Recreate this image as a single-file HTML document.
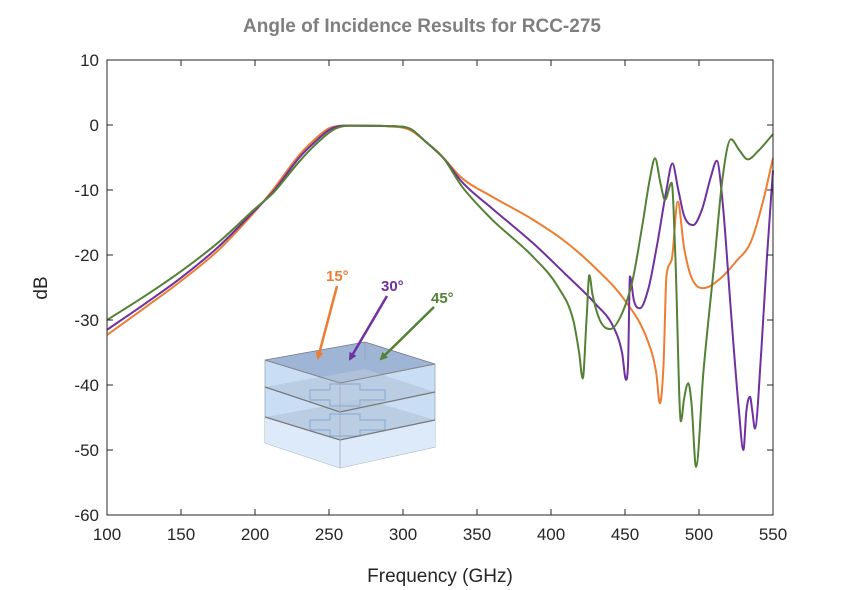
<!DOCTYPE html>
<html><head><meta charset="utf-8"><style>
body{margin:0;background:#fff;}
svg{display:block;font-family:"Liberation Sans",sans-serif;}
</style></head><body>
<svg id="chart" width="844" height="590" viewBox="0 0 844 590">
<text x="422" y="32" text-anchor="middle" font-size="19" font-weight="bold" fill="#7f7f7f">Angle of Incidence Results for RCC-275</text>
<g id="axes"></g>
<g id="inset">
  <polygon points="265,443 340,468 435,447 435,364 340,383 265,360" fill="#c9def5" stroke="#9aa" stroke-width="0.8"/>
  <polygon points="265,443 340,468 435,447 435,420 340,440 265,417" fill="#ddeaf9" stroke="none"/>
  <polygon points="265,360 365,342 435,364 340,383" fill="#9fb5d6" stroke="#778" stroke-width="0.8"/>
  <polygon points="265,387 365,369 435,392 340,412" fill="#b5c6da" opacity="0.7" stroke="none"/>
  <polygon points="265,417 365,399 435,420 340,440" fill="#b5c6da" opacity="0.7" stroke="none"/>
  <path d="M310,390 h20 v-6 h30 v6 h25 v10 h-25 v6 h-30 v-6 h-20z M310,420 h20 v-6 h30 v6 h25 v10 h-25 v6 h-30 v-6 h-20z" fill="none" stroke="#8fb0d8" stroke-width="1.2"/>
  <polyline points="265,387 340,412 435,392" fill="none" stroke="#777" stroke-width="1.2"/>
  <polyline points="265,417 340,440 435,420" fill="none" stroke="#777" stroke-width="1.2"/>
  <polyline points="265,360 340,383 435,364" fill="none" stroke="#888" stroke-width="1"/>
  <line x1="340" y1="383" x2="340" y2="468" stroke="#aab" stroke-width="0.8"/>
  <line x1="365" y1="342" x2="365" y2="360" stroke="#99a" stroke-width="0.6"/>
  <defs>
    <marker id="ao" markerWidth="8" markerHeight="8" refX="6" refY="4" orient="auto" markerUnits="userSpaceOnUse"><path d="M0,0 L8,4 L0,8z" fill="#ED7D31"/></marker>
    <marker id="ap" markerWidth="8" markerHeight="8" refX="6" refY="4" orient="auto" markerUnits="userSpaceOnUse"><path d="M0,0 L8,4 L0,8z" fill="#7030A0"/></marker>
    <marker id="ag" markerWidth="8" markerHeight="8" refX="6" refY="4" orient="auto" markerUnits="userSpaceOnUse"><path d="M0,0 L8,4 L0,8z" fill="#538135"/></marker>
  </defs>
  <line x1="337" y1="286" x2="318" y2="358" stroke="#ED7D31" stroke-width="2.5" marker-end="url(#ao)"/>
  <line x1="387" y1="296" x2="350" y2="359" stroke="#7030A0" stroke-width="2.5" marker-end="url(#ap)"/>
  <line x1="434" y1="307" x2="381" y2="359" stroke="#538135" stroke-width="2.5" marker-end="url(#ag)"/>
  <text x="326" y="281" font-size="15" font-weight="bold" fill="#ED7D31">15°</text>
  <text x="381" y="291" font-size="15" font-weight="bold" fill="#7030A0">30°</text>
  <text x="431" y="303" font-size="15" font-weight="bold" fill="#538135">45°</text>
</g>
<g id="series"></g>
<g id="frame"></g>
</svg>
<script>
const xTicks=[100,150,200,250,300,350,400,450,500,550];
const yTicks=[10,0,-10,-20,-30,-40,-50,-60];
const f15=[100,125,150,175,200,212,230,240,250,260,290,305,315,327,340,360,388,410,430,450,465,471,473.6,476,478,481.5,485.6,490,495,503,515,525,535,543,550];
const v15=[-32.3,-28.2,-24,-19.3,-13.3,-10,-4.6,-2.3,-0.5,-0.1,-0.2,-0.8,-2.5,-5,-8.2,-11,-14.6,-18,-22,-27,-33,-38,-42.8,-37,-23.3,-20.8,-11.8,-19,-23.5,-25.1,-23.5,-21,-18,-12,-5.1];
const f30=[100,125,150,175,200,212,230,240,252,262,295,305,315,327,340,360,388,410,430,442,448,450.7,452,453.4,456,460,466,472,478,482,486,490,496,502,508,512,516,522,527,530,532,534.5,536,537.8,542,546,550];
const v30=[-31.5,-27.6,-23.5,-18.8,-13.1,-10.3,-5,-2.7,-0.5,-0.1,-0.2,-0.6,-2.5,-5,-8.8,-12.8,-18.2,-23,-27.5,-31,-35,-39.2,-37,-23.3,-27,-28.2,-25,-18,-10,-5.9,-10,-14,-15.4,-13,-8,-5.5,-12,-30,-44,-50,-44,-41.8,-44,-46.7,-35,-20,-7];
const f45=[100,125,150,175,200,212,230,240,254,264,295,305,315,327,340,360,388,405,415,419,421.4,424,425.9,428,433,440,448,455,462,467,470.3,474,477,481.5,484,487.8,490,492.8,495,498,503,510,516,521.6,527,533,540,550];
const v45=[-30,-26.4,-22.5,-18.1,-12.9,-10.5,-5.6,-3.2,-0.6,-0.1,-0.2,-0.6,-2.5,-5,-9.5,-14.5,-20.3,-25,-30,-35,-39,-30,-23.1,-26,-30,-31.4,-29,-24,-15,-8,-5.1,-9,-11.5,-8.9,-20,-45.6,-42,-39.7,-43,-52.6,-38,-22,-8,-2.2,-3.8,-5.3,-4,-1.4];

const L=107,R=773,T=60,B=515;
const sx=f=>L+(f-100)/450*(R-L);
const sy=d=>T+(10-d)/70*(B-T);
const NS='http://www.w3.org/2000/svg';
function mk(tag,attrs,parent){const e=document.createElementNS(NS,tag);for(const k in attrs)e.setAttribute(k,attrs[k]);parent.appendChild(e);return e;}

function monoPath(xs,ys){
  const n=xs.length,X=xs.map(sx),Y=ys.map(sy),d=[],m=[];
  for(let i=0;i<n-1;i++)d.push((Y[i+1]-Y[i])/(X[i+1]-X[i]));
  m[0]=d[0];m[n-1]=d[n-2];
  for(let i=1;i<n-1;i++){m[i]=(d[i-1]*d[i]<=0)?0:(d[i-1]+d[i])/2;}
  for(let i=0;i<n-1;i++){if(d[i]===0){m[i]=0;m[i+1]=0;continue;}const a=m[i]/d[i],b=m[i+1]/d[i],s=a*a+b*b;if(s>9){const t=3/Math.sqrt(s);m[i]=t*a*d[i];m[i+1]=t*b*d[i];}}
  let p='M'+X[0].toFixed(1)+','+Y[0].toFixed(1);
  for(let i=0;i<n-1;i++){const h=(X[i+1]-X[i])/3;p+=' C'+(X[i]+h).toFixed(1)+','+(Y[i]+m[i]*h).toFixed(1)+' '+(X[i+1]-h).toFixed(1)+','+(Y[i+1]-m[i+1]*h).toFixed(1)+' '+X[i+1].toFixed(1)+','+Y[i+1].toFixed(1);}
  return p;
}
const ser=document.getElementById('series');
let e;
e=mk('path',{d:monoPath(f15,v15),fill:'none',stroke:'#ED7D31','stroke-width':2},ser);


e=mk('path',{d:monoPath(f30,v30),fill:'none',stroke:'#7030A0','stroke-width':2},ser);


e=mk('path',{d:monoPath(f45,v45),fill:'none',stroke:'#538135','stroke-width':2},ser);



const ax=document.getElementById('frame');
e=mk('rect',{x:L,y:T,width:R-L,height:B-T,fill:'none',stroke:'#262626','stroke-width':1},ax);


xTicks.forEach(t=>{
  const x=sx(t);
  mk('line',{x1:x,y1:B,x2:x,y2:B-6,stroke:'#262626'},ax);
  mk('line',{x1:x,y1:T,x2:x,y2:T+6,stroke:'#262626'},ax);
  const tx=mk('text',{x:x,y:B+25,'text-anchor':'middle','font-size':17,fill:'#262626'},ax);
  tx.textContent=t;
  
  
});
yTicks.forEach(t=>{
  const y=sy(t);
  mk('line',{x1:L,y1:y,x2:L+6,y2:y,stroke:'#262626'},ax);
  mk('line',{x1:R,y1:y,x2:R-6,y2:y,stroke:'#262626'},ax);
  const tx=mk('text',{x:L-8,y:y+6,'text-anchor':'end','font-size':17,fill:'#262626'},ax);
  tx.textContent=t;
  
  
});
e=mk('text',{x:(L+R)/2,y:582,'text-anchor':'middle','font-size':19,fill:'#262626'},ax);
e.textContent='Frequency (GHz)';


e=mk('text',{x:0,y:0,'text-anchor':'middle','font-size':19,fill:'#262626',transform:'translate(47,288) rotate(-90)'},ax);
e.textContent='dB';


</script>
</body></html>
